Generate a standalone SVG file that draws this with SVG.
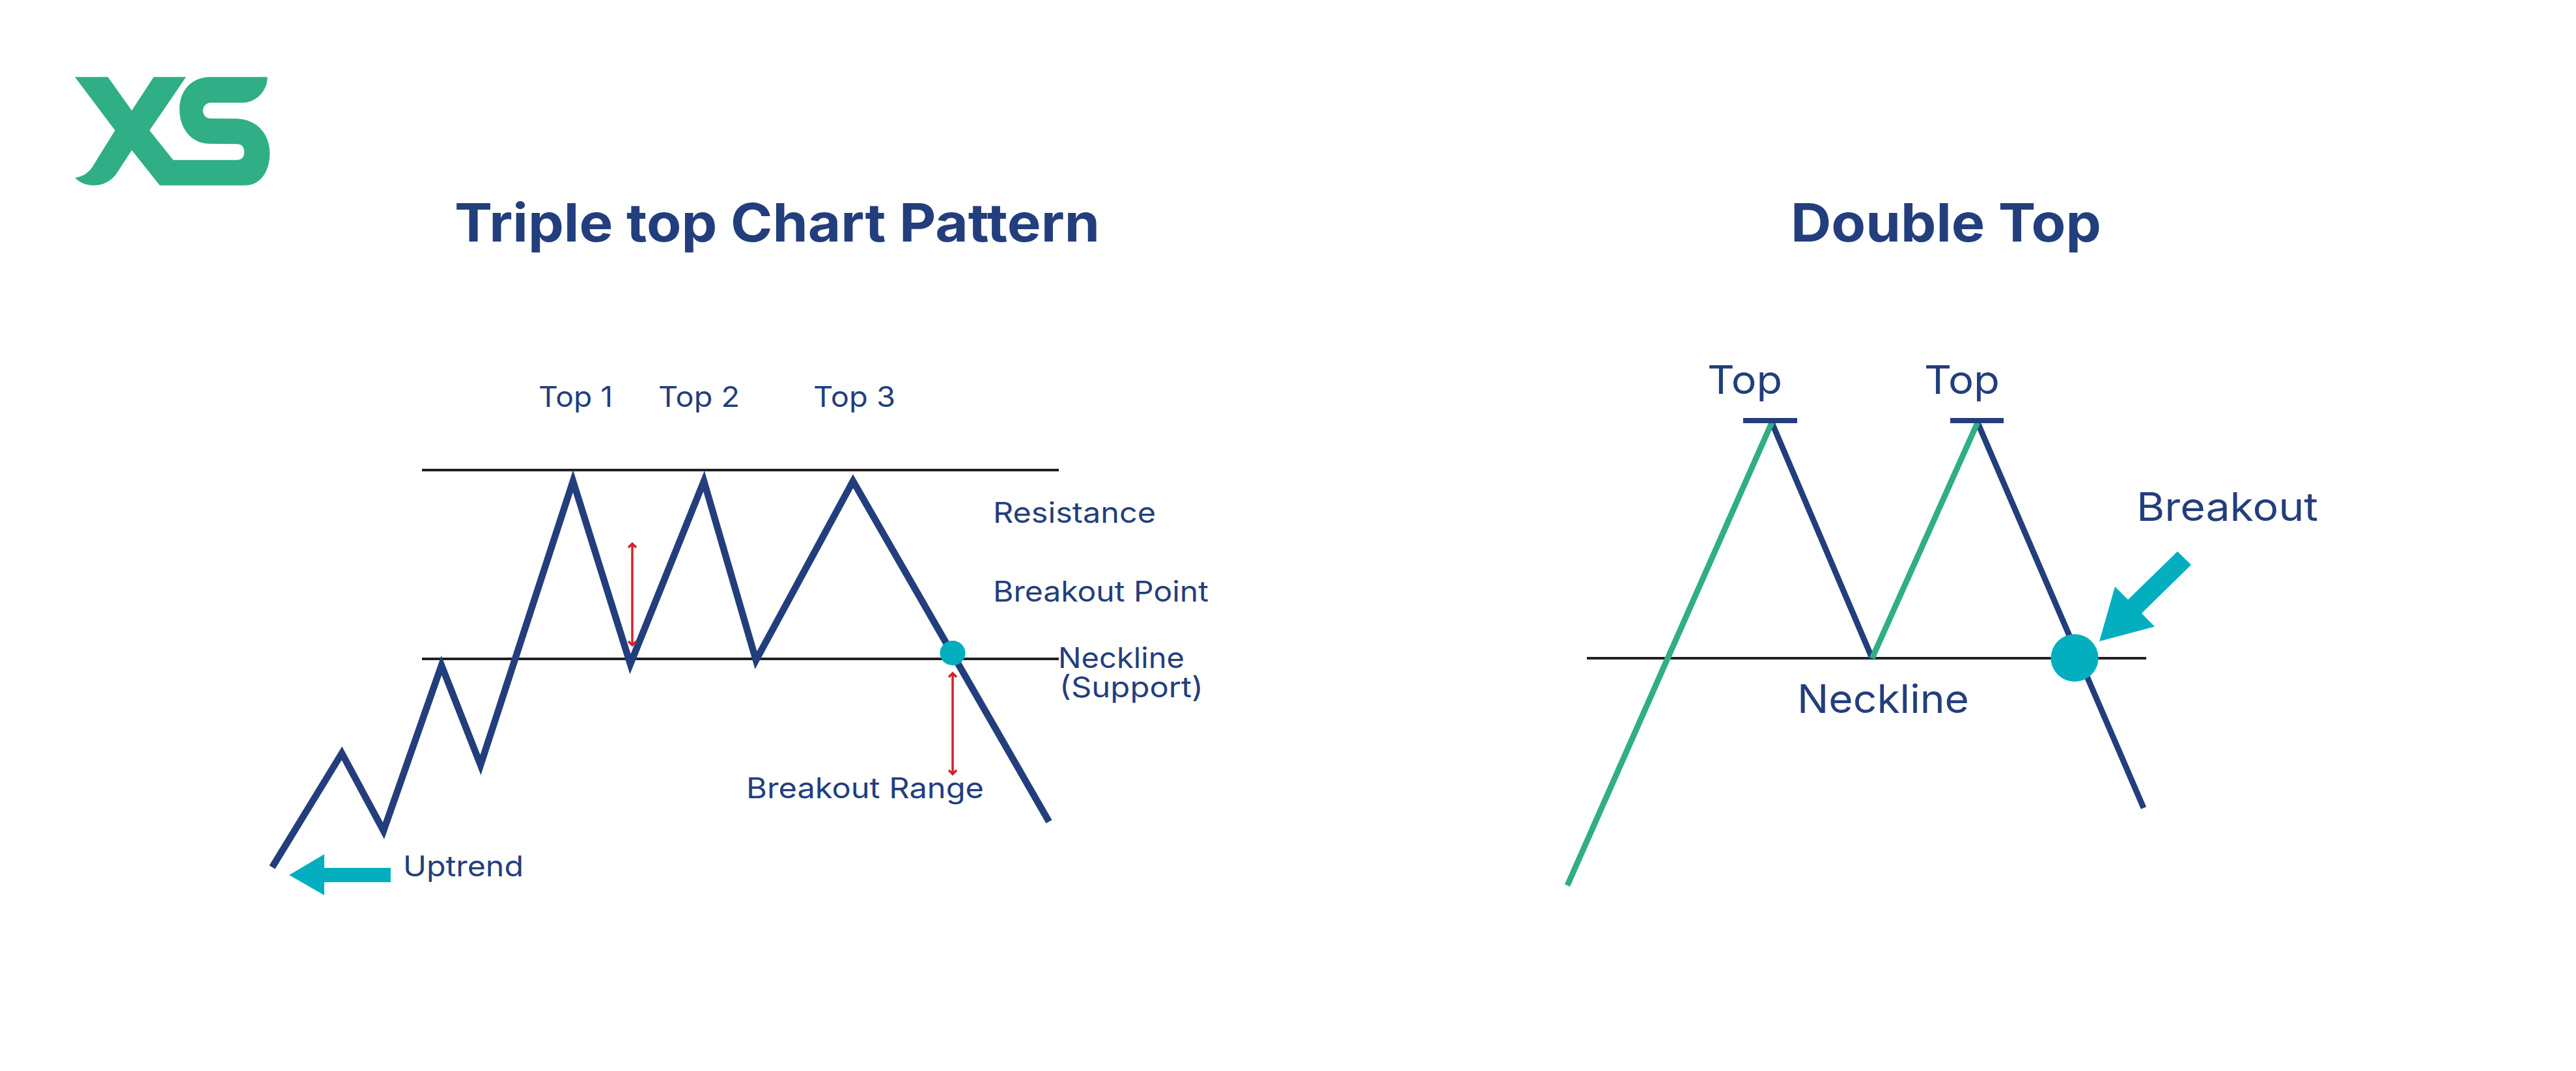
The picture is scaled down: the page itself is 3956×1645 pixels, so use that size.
<svg xmlns="http://www.w3.org/2000/svg" width="3956" height="1645" viewBox="0 0 3956 1645">
<style>
text{font-family:"Inter","Liberation Sans",sans-serif;fill:#233e7c;font-weight:400}
.t{font-size:81px;font-weight:700}
.s{font-size:44px}
.l{font-size:60px}
.p{fill:none;stroke:#233e7c;stroke-width:10.500;stroke-miterlimit:10}
.g{fill:none;stroke:#30ae85;stroke-width:9}
.b{fill:none;stroke:#231f20;stroke-width:4}
.r{fill:none;stroke:#d7202c;stroke-width:3.500}
.c{fill:#03afbf}
</style>
<rect width="3956" height="1645" fill="#ffffff"/>
<g id="logo"><path transform="translate(80 80) scale(.33333)" fill="#30ae85" d="M105,115 L257,115 L367,269 L468,115 L617,115 L449,361 L558,497 L850,497 Q885,497 885,461 Q885,424 850,424 L720,422 C640,420 587,350 587,265 C587,170 650,115 730,115 L992,115 C992,180 940,233 880,233 L730,233 C710,233 695,250 695,270 C695,290 710,306 730,306 L850,307 C950,310 1003,385 1003,465 C1003,550 960,614 890,614 L496,614 L367,452 L300,555 C270,600 230,614 190,614 C155,614 125,600 105,579 C135,575 165,560 185,530 L290,361 Z"/></g>
<g id="titles">
<text class="t" x="698" y="371" textLength="991" lengthAdjust="spacingAndGlyphs">Triple top Chart Pattern</text>
<text class="t" x="2750" y="371" textLength="477" lengthAdjust="spacingAndGlyphs">Double Top</text>
</g>
<g id="connectors">
<path class="b" d="M648 722H1626M648 1012H1626"/>
<path class="p" d="M418 1332L525 1157L589 1276L678 1022L738 1175L880 739L968 1020L1081 739L1161 1014L1310 739L1611 1262"/>
<path class="r" d="M971 835V991M965 841L971 835L977 841M965 985L971 991L977 985"/>
<path class="r" d="M1463 1034V1189M1457 1040L1463 1034L1469 1040M1457 1183L1463 1189L1469 1183"/>
<path class="c" d="M444 1344L498 1312V1333H600V1355H498V1375Z"/>
<path class="b" d="M2437 1011H3296"/>
<path class="p" style="stroke-width:9" d="M2721 649L2875 1011M3037 649L3292 1241"/>
<path class="g" d="M2407 1360L2721 649M2875 1011L3037 649"/>
<rect x="2677" y="642" width="83" height="8" fill="#233e7c"/>
<rect x="2995" y="642" width="82" height="8" fill="#233e7c"/>
<path class="c" d="M3344 847L3365 867.500L3289 942L3309 962.500L3224 985L3248 901L3268 921Z"/>
</g>
<g id="node-breakout-point"><ellipse class="c" cx="1463" cy="1003" rx="19.500" ry="19"/></g>
<g id="node-breakout"><ellipse class="c" cx="3186" cy="1010.500" rx="36.500" ry="36.500"/></g>
<g id="labels">
<text class="s" x="827" y="625" textLength="114" lengthAdjust="spacingAndGlyphs">Top 1</text>
<text class="s" x="1011" y="625" textLength="125" lengthAdjust="spacingAndGlyphs">Top 2</text>
<text class="s" x="1249" y="625" textLength="126" lengthAdjust="spacingAndGlyphs">Top 3</text>
<text class="s" x="1525" y="803" textLength="250" lengthAdjust="spacingAndGlyphs">Resistance</text>
<text class="s" x="1525" y="924" textLength="331" lengthAdjust="spacingAndGlyphs">Breakout Point</text>
<text class="s" x="1625" y="1026" textLength="194" lengthAdjust="spacingAndGlyphs">Neckline</text>
<text class="s" x="1627" y="1071" textLength="221" lengthAdjust="spacingAndGlyphs">(Support)</text>
<text class="s" x="1146" y="1226" textLength="365" lengthAdjust="spacingAndGlyphs">Breakout Range</text>
<text class="s" x="619" y="1346" textLength="185" lengthAdjust="spacingAndGlyphs">Uptrend</text>
<text class="l" x="2622" y="605" textLength="115" lengthAdjust="spacingAndGlyphs">Top</text>
<text class="l" x="2955" y="605" textLength="116" lengthAdjust="spacingAndGlyphs">Top</text>
<text class="l" x="3281" y="800" textLength="279" lengthAdjust="spacingAndGlyphs">Breakout</text>
<text class="l" x="2760" y="1095" textLength="264" lengthAdjust="spacingAndGlyphs">Neckline</text>
</g>
</svg>
